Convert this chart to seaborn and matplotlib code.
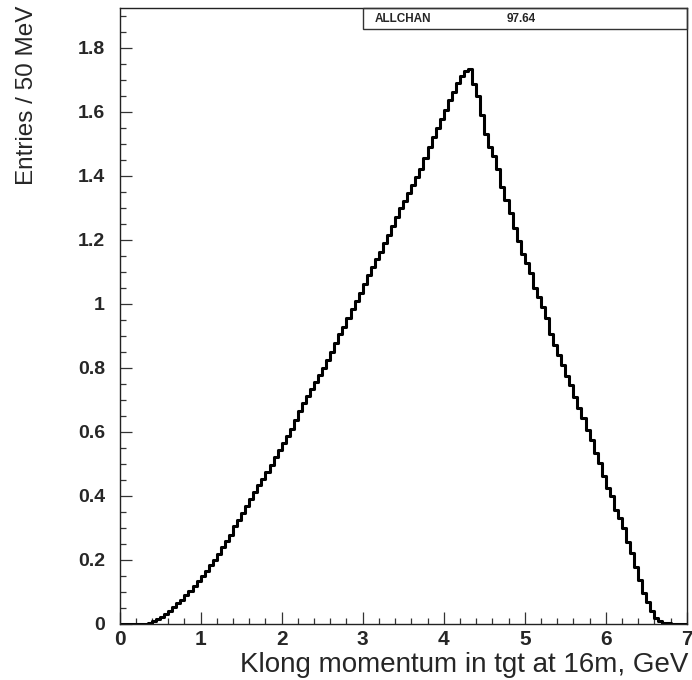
import matplotlib
matplotlib.use("Agg")
import matplotlib.pyplot as plt
from matplotlib.patches import Rectangle
from matplotlib.ticker import MultipleLocator, FixedLocator
import pandas as pd
import seaborn as sns

# 140 bins of 50 MeV from 0 to 7 GeV
bin_edges = [round(0.05 * i, 3) for i in range(141)]
bin_centers = [round(0.05 * i + 0.025, 3) for i in range(140)]

entries = [
    0.0, 0.0, 0.0, 0.0, 0.0, 0.0, 0.0, 0.002, 0.007, 0.014,
    0.021, 0.030, 0.040, 0.052, 0.063, 0.075, 0.088, 0.102, 0.118, 0.133,
    0.148, 0.165, 0.183, 0.200, 0.219, 0.238, 0.258, 0.278, 0.305, 0.325,
    0.346, 0.368, 0.390, 0.411, 0.432, 0.452, 0.474, 0.497, 0.520, 0.543,
    0.565, 0.586, 0.608, 0.635, 0.664, 0.688, 0.710, 0.733, 0.755, 0.778,
    0.800, 0.825, 0.850, 0.877, 0.904, 0.928, 0.955, 0.983, 1.008, 1.034,
    1.062, 1.088, 1.114, 1.140, 1.162, 1.188, 1.214, 1.242, 1.272, 1.298,
    1.322, 1.346, 1.372, 1.395, 1.420, 1.455, 1.490, 1.522, 1.548, 1.578,
    1.606, 1.636, 1.662, 1.688, 1.710, 1.728, 1.732, 1.686, 1.648, 1.590,
    1.530, 1.490, 1.462, 1.420, 1.366, 1.325, 1.284, 1.235, 1.195, 1.155,
    1.128, 1.095, 1.050, 1.022, 0.990, 0.955, 0.905, 0.872, 0.840, 0.808,
    0.775, 0.745, 0.708, 0.675, 0.642, 0.606, 0.575, 0.533, 0.502, 0.460,
    0.424, 0.398, 0.356, 0.330, 0.300, 0.256, 0.222, 0.178, 0.137, 0.097,
    0.066, 0.040, 0.018, 0.008, 0.003, 0.001, 0.0, 0.0, 0.0, 0.0,
]

x_ticks = [0, 1, 2, 3, 4, 5, 6, 7]
x_tick_labels = ["0", "1", "2", "3", "4", "5", "6", "7"]
y_ticks = [0, 0.2, 0.4, 0.6, 0.8, 1.0, 1.2, 1.4, 1.6, 1.8]
y_tick_labels = ["0", "0.2", "0.4", "0.6", "0.8", "1", "1.2", "1.4", "1.6", "1.8"]

stat_name = "ALLCHAN"
stat_value = "97.64"
x_label = "Klong momentum in tgt at 16m, GeV"
y_label = "Entries / 50 MeV"

hist_df = pd.DataFrame({"momentum": bin_centers, "entries": entries})

sns.set_style("white")
plt.rcParams["font.family"] = ["Liberation Sans", "DejaVu Sans"]

W, H = 692, 680
fig = plt.figure(figsize=(W / 100, H / 100), dpi=100)
ax_l, ax_r, ax_t, ax_b = 119.6, 686.8, 8.3, 623.6
ax = fig.add_axes([ax_l / W, 1 - ax_b / H, (ax_r - ax_l) / W, (ax_b - ax_t) / H])

sns.histplot(data=hist_df, x="momentum", weights="entries", bins=bin_edges,
             element="step", fill=False, color="black", linewidth=2.2, ax=ax)

ax.set_xlim(0, 7)
ax.set_ylim(0, 1.923)
ax.set_xlabel("")
ax.set_ylabel("")

ax.xaxis.set_major_locator(FixedLocator(x_ticks))
ax.set_xticklabels(x_tick_labels)
ax.xaxis.set_minor_locator(MultipleLocator(0.2))
ax.yaxis.set_major_locator(FixedLocator(y_ticks))
ax.set_yticklabels(y_tick_labels)
ax.yaxis.set_minor_locator(MultipleLocator(0.05))

ax.tick_params(axis="both", which="both", direction="in", width=0.9,
               color="#333333", bottom=True, left=True, top=False, right=False)
ax.tick_params(axis="both", which="major", length=8.3)
ax.tick_params(axis="both", which="minor", length=4.0)
ax.tick_params(axis="y", which="major", pad=10.5, labelsize=14)
ax.tick_params(axis="x", which="major", pad=4.5, labelsize=15)
for lab in ax.get_xticklabels() + ax.get_yticklabels():
    lab.set_fontweight("bold")

for side in ["left", "right", "top", "bottom"]:
    ax.spines[side].set_visible(True)
    ax.spines[side].set_color("#222222")
    ax.spines[side].set_linewidth(1.0)

# statistics box in the upper right corner
box_x0 = (362.7 - ax_l) / (ax_r - ax_l)
box_y0 = (ax_b - 29.0) / (ax_b - ax_t)
ax.add_patch(Rectangle((box_x0, box_y0), 1 - box_x0, 1 - box_y0,
                       transform=ax.transAxes, fill=False, edgecolor="#333333",
                       linewidth=1.0, clip_on=False, zorder=5))
text_y = (ax_b - 18.5) / (ax_b - ax_t)
ax.text((375 - ax_l) / (ax_r - ax_l), text_y, stat_name, transform=ax.transAxes,
        fontsize=8.5, fontweight="bold", ha="left", va="center")
ax.text((507 - ax_l) / (ax_r - ax_l), text_y, stat_value, transform=ax.transAxes,
        fontsize=8.5, fontweight="bold", ha="left", va="center")

fig.text(688 / W, 1 - 672 / H, x_label, fontsize=20, ha="right", va="baseline")
fig.text(27 / W, 1 - 95 / H, y_label, fontsize=17.5, rotation=90,
         ha="center", va="center")

fig.savefig("out.png", dpi=100)
